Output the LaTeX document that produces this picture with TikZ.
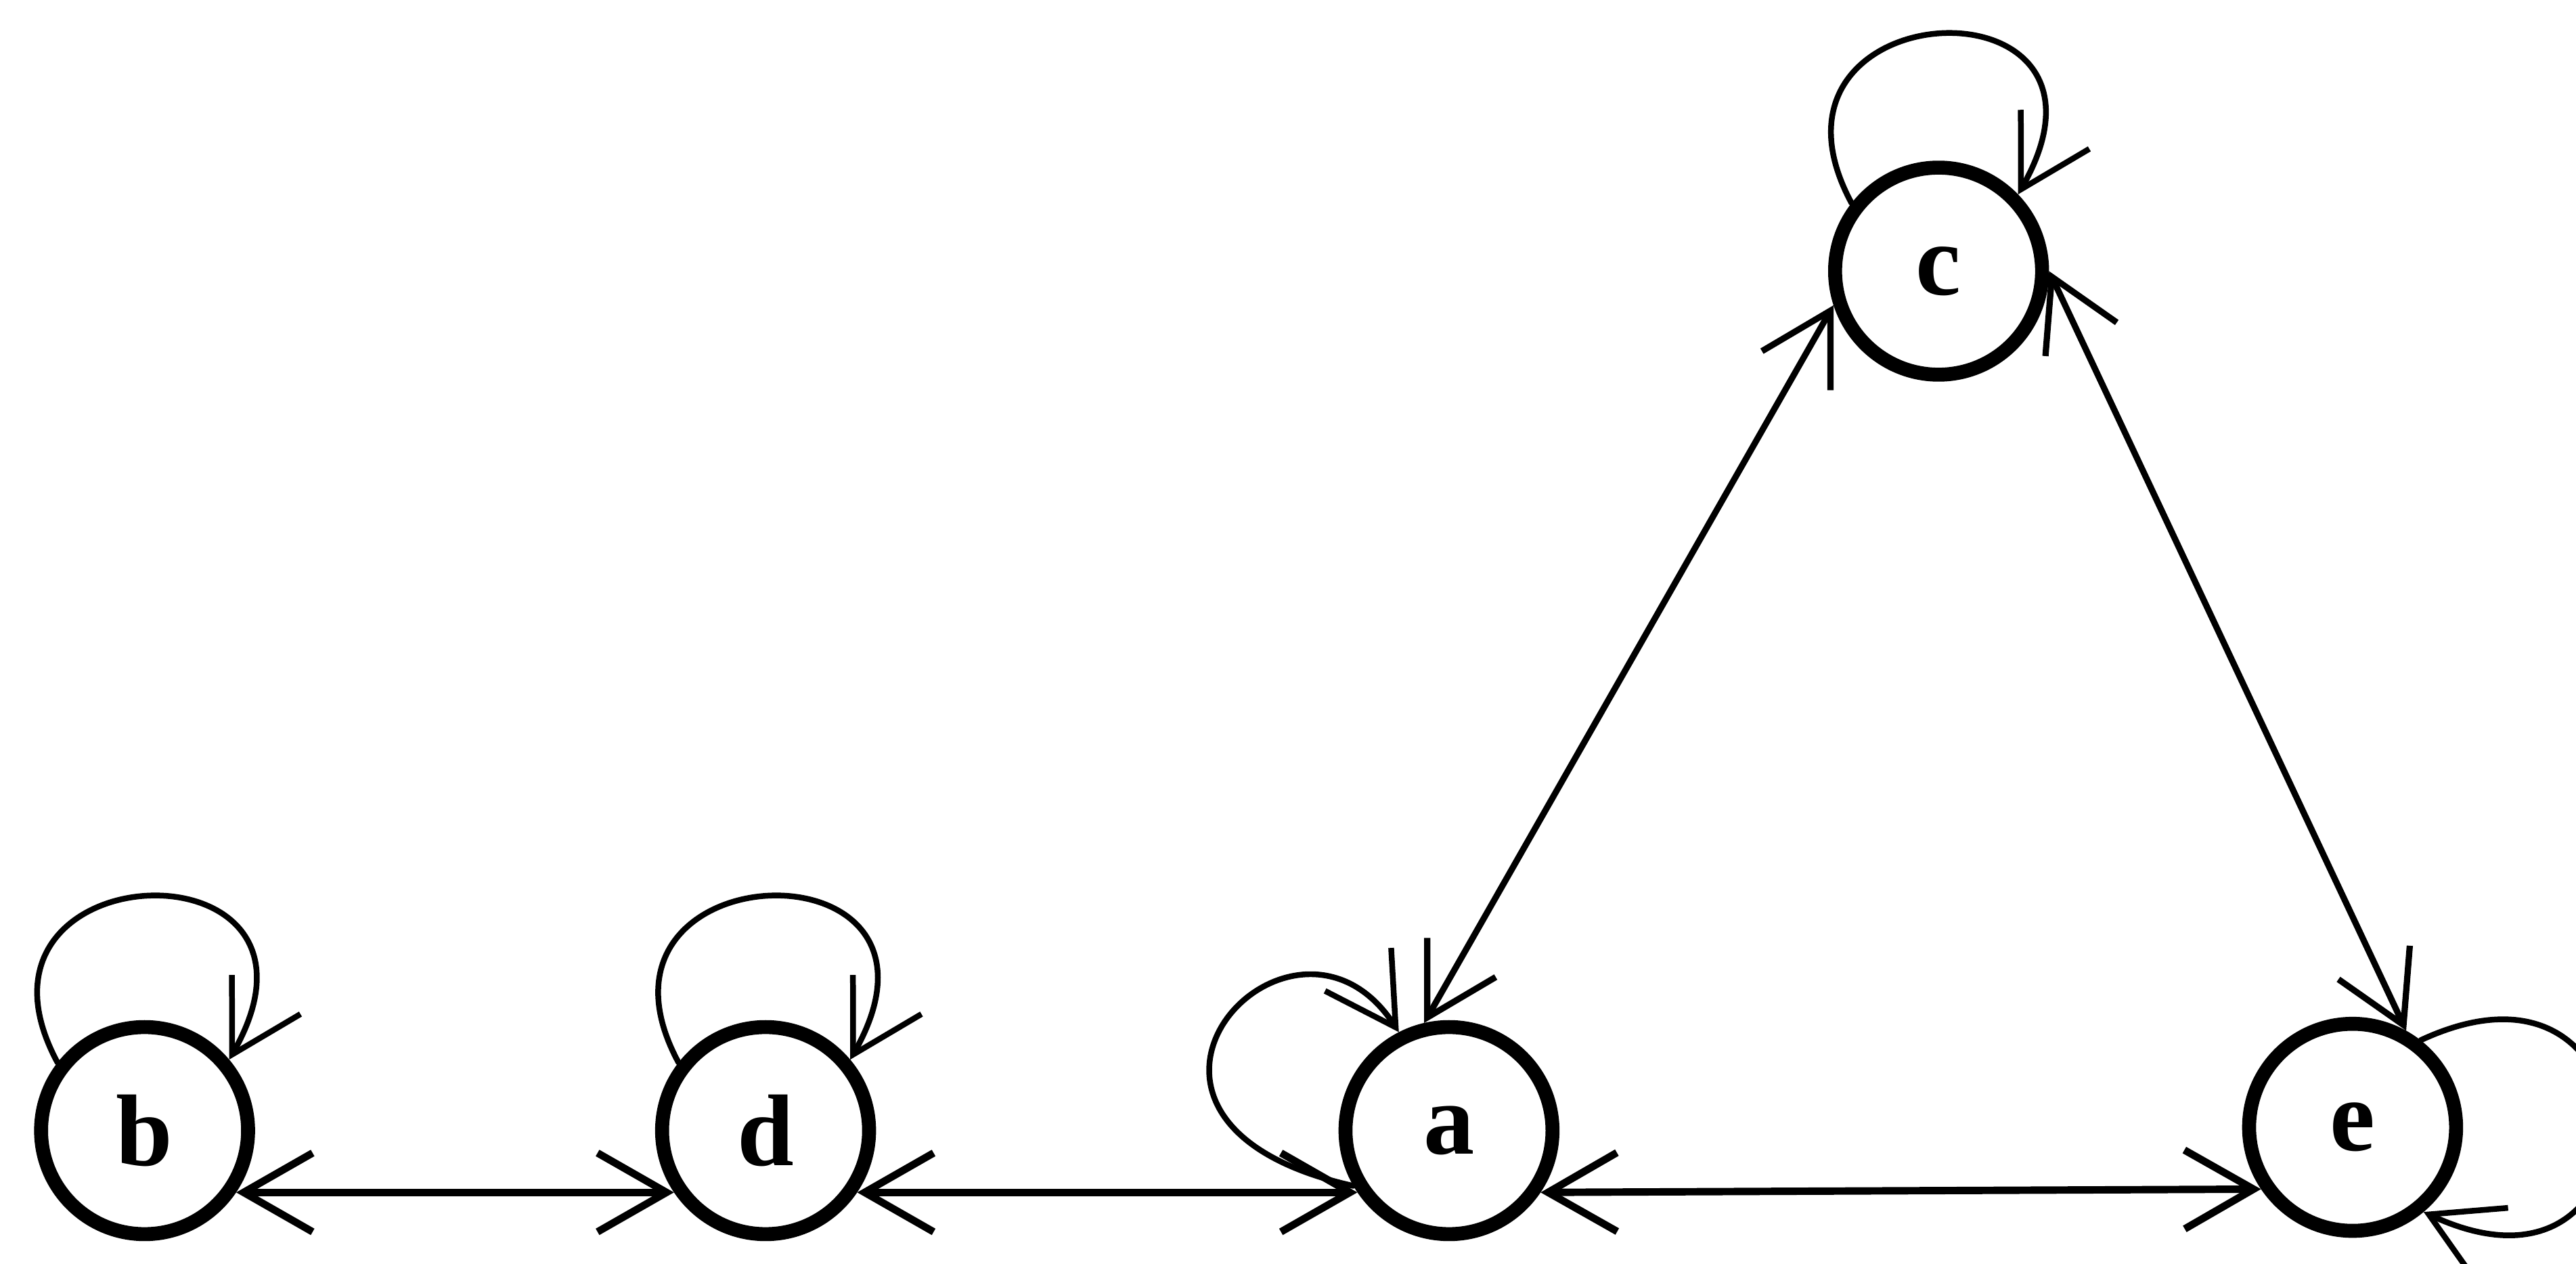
\documentclass[tikz,border=0pt]{standalone}
\usepackage{fontspec}
\setmainfont{Liberation Serif}
\usetikzlibrary{arrows.meta}
\begin{document}
\begin{tikzpicture}[x=1pt,y=1pt,
  >={Straight Barb[length=42pt,width=48pt]},
  state/.style={circle, draw, line width=8.5pt, minimum size=126pt, inner sep=0pt,
    font=\fontsize{62}{72}\selectfont\bfseries},
  hedge/.style={line width=4.5pt, line cap=round, <->},
  dedge/.style={line width=3.8pt, line cap=round, <->},
  selfloop/.style={line width=3.5pt, line cap=round, ->}]
\useasboundingbox (0,0) rectangle (1568,769);
\clip (0,0) rectangle (1568,769);
\node[state] (b) at (88,81) {b};
\node[state] (d) at (466,81) {d};
\node[state] (a) at (882,81) {a};
\node[state] (e) at (1432,83) {e};
\node[state] (c) at (1180,604) {c};
\draw[hedge] (b.-34) -- (d.214);
\draw[hedge] (d.-34) -- (a.214);
\draw[hedge] (a.-34) -- (e.214);
\draw[dedge] (a.103) -- (c.198);
\draw[dedge] (c.0) -- (e.61);
\draw[selfloop] (b.142) .. controls +(-70,130) and +(78,137) .. (b.40);
\draw[selfloop] (d.142) .. controls +(-70,130) and +(78,137) .. (d.40);
\draw[selfloop] (c.142) .. controls +(-70,130) and +(78,137) .. (c.44);
\draw[selfloop] (a.210) .. controls +(-180,40) and +(-65,100) .. (a.117);
\draw[selfloop] (e.52) .. controls +(150,70) and +(150,-70) .. (e.-50);
\end{tikzpicture}
\end{document}
